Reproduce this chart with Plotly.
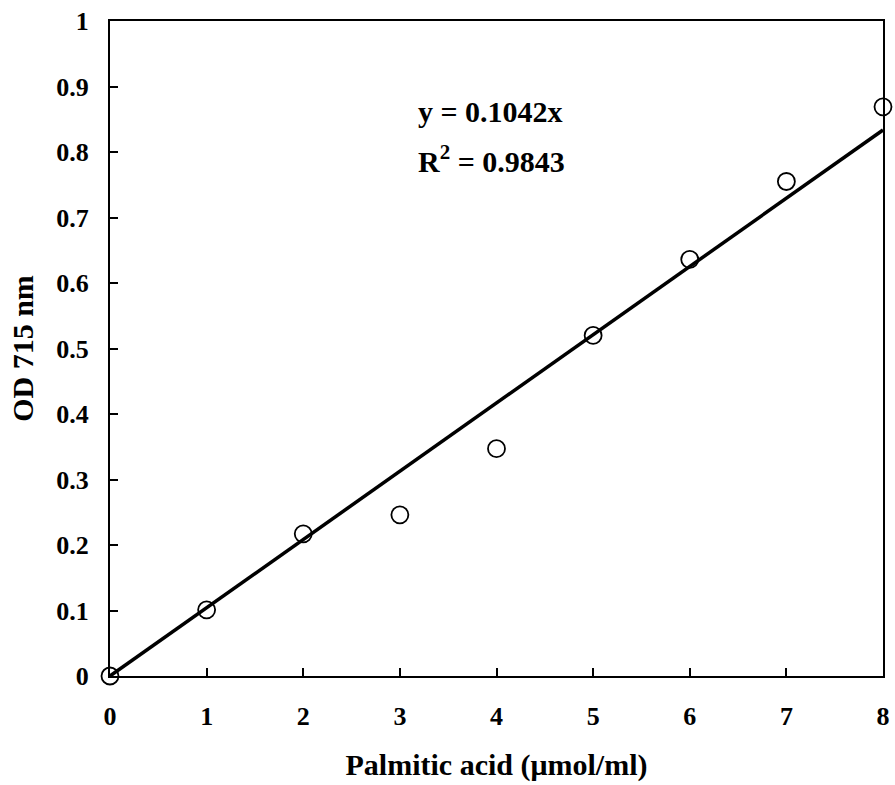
import plotly.graph_objects as go

# Data
conc = [0, 1, 2, 3, 4, 5, 6, 7, 8]
od = [0.0, 0.101, 0.217, 0.246, 0.347, 0.520, 0.636, 0.755, 0.869]
fit_x = [0, 8]
fit_y = [0.0, 0.8336]
x_ticks = [0, 1, 2, 3, 4, 5, 6, 7, 8]
y_ticks = [0, 0.1, 0.2, 0.3, 0.4, 0.5, 0.6, 0.7, 0.8, 0.9, 1]
y_tick_text = ["0", "0.1", "0.2", "0.3", "0.4", "0.5", "0.6", "0.7", "0.8", "0.9", "1"]

FONT = "Liberation Serif, Times New Roman, serif"

fig = go.Figure()
fig.add_trace(go.Scatter(
    x=fit_x, y=fit_y, mode="lines",
    line=dict(color="black", width=3.5),
    showlegend=False, hoverinfo="skip", cliponaxis=False,
))
fig.add_trace(go.Scatter(
    x=conc, y=od, mode="markers",
    marker=dict(symbol="circle-open", size=17, color="black", line=dict(width=1.8, color="black")),
    showlegend=False, cliponaxis=False,
))

fig.update_layout(
    width=895, height=785,
    margin=dict(l=110, r=12, t=21, b=109),
    plot_bgcolor="white", paper_bgcolor="white",
    font=dict(family=FONT, color="black"),
    xaxis=dict(
        range=[0, 8], tickvals=x_ticks, ticks="inside", ticklen=8, tickwidth=2,
        tickcolor="black", showline=True, linewidth=2, linecolor="black", mirror=True,
        showgrid=False, zeroline=False, automargin=False,
        tickfont=dict(family=FONT, size=26, color="black", weight="bold"),
        ticklabelstandoff=16,
        title=dict(text="<b>Palmitic acid (μmol/ml)</b>", font=dict(family=FONT, size=30, color="black"),
                   standoff=24),
    ),
    yaxis=dict(
        range=[0, 1], tickvals=y_ticks, ticktext=y_tick_text, ticks="inside", ticklen=8, tickwidth=2,
        tickcolor="black", showline=True, linewidth=2, linecolor="black", mirror=True,
        showgrid=False, zeroline=False, automargin=False,
        tickfont=dict(family=FONT, size=26, color="black", weight="bold"),
        ticklabelstandoff=14,
        title=dict(text="<b>OD 715 nm</b>", font=dict(family=FONT, size=30, color="black"),
                   standoff=14),
    ),
    annotations=[
        dict(x=3.17, y=0.862, xref="x", yref="y", xanchor="left", yanchor="middle",
             text="<b>y = 0.1042x</b>", showarrow=False,
             font=dict(family=FONT, size=30, color="black")),
        dict(x=3.17, y=0.790, xref="x", yref="y", xanchor="left", yanchor="middle",
             text="<b>R<sup>2</sup> = 0.9843</b>", showarrow=False,
             font=dict(family=FONT, size=30, color="black")),
    ],
)

fig.write_html("out.html")
